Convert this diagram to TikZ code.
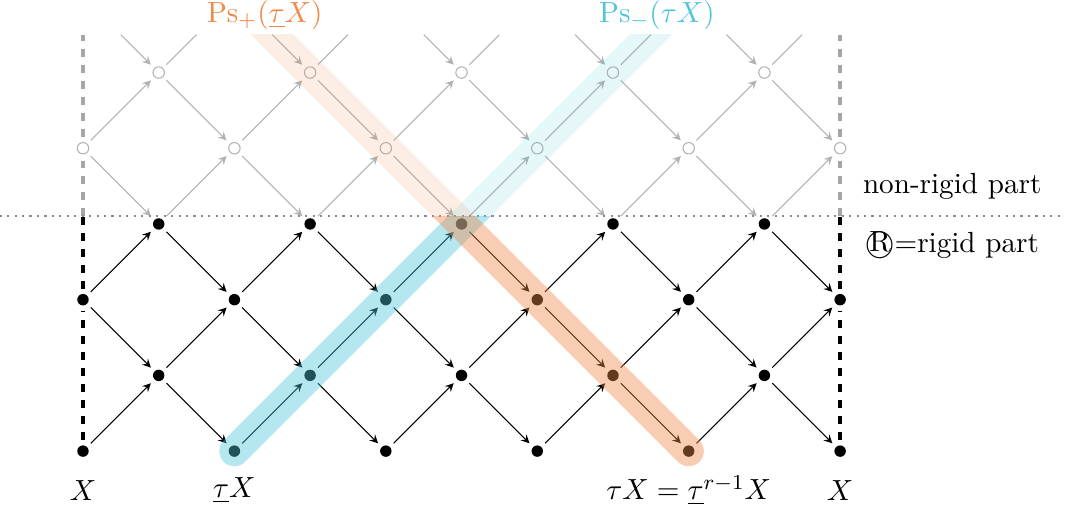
\documentclass[11pt,tikz,border=0pt]{standalone}
\usepackage{amsmath}
\definecolor{psplus}{RGB}{240,136,74}
\definecolor{psminus}{RGB}{78,197,221}
\tikzset{
  rig/.style={circle, fill=black, inner sep=0pt, minimum size=4.3pt, outer sep=2pt},
  nonrig/.style={circle, draw=black!30, fill=white, inner sep=0pt, minimum size=4.3pt, outer sep=2pt},
  rigarr/.style={->, black},
  nonrigarr/.style={->, black!30},
  wall/.style={dashed, ultra thick},
  band/.style={line width=0.4cm, line cap=round},
}
\begin{document}
\begin{tikzpicture}[>=stealth, line join=round]
\useasboundingbox (-1.096,-0.793) rectangle (12.97,5.958);

% Vertici parte rigida
\foreach \j in {0,2} \foreach \i in {0,2,...,10} \node[rig] (v-\i-\j) at (\i,\j) {};
\foreach \j in {1,3} \foreach \i in {1,3,...,9} \node[rig] (v-\i-\j) at (\i,\j) {};

% Vertici parte non rigida
\foreach \i in {0,2,...,10} \node[nonrig] (v-\i-4) at (\i,4) {};
\foreach \i in {1,3,...,9} \node[nonrig] (v-\i-5) at (\i,5) {};

% Frecce rigide
\foreach \j/\k in {0/1,2/3} \foreach \i in {0,2,...,8} {
  \pgfmathtruncatemacro\n{\i+1}
  \draw[rigarr] (v-\i-\j) -- (v-\n-\k);
}
\foreach \i in {1,3,...,9} {
  \pgfmathtruncatemacro\n{\i+1}
  \draw[rigarr] (v-\i-1) -- (v-\n-2);
  \draw[rigarr] (v-\i-1) -- (v-\n-0);
  \draw[rigarr] (v-\i-3) -- (v-\n-2);
}
\foreach \i in {0,2,...,8} {
  \pgfmathtruncatemacro\n{\i+1}
  \draw[rigarr] (v-\i-2) -- (v-\n-1);
}

% Frecce non rigide
\foreach \i in {1,3,...,9} {
  \pgfmathtruncatemacro\n{\i+1}
  \draw[nonrigarr] (v-\i-3) -- (v-\n-4);
  \draw[nonrigarr] (v-\i-5) -- (v-\n-4);
}
\foreach \i in {0,2,...,8} {
  \pgfmathtruncatemacro\n{\i+1}
  \draw[nonrigarr] (v-\i-4) -- (v-\n-5);
  \draw[nonrigarr] (v-\i-4) -- (v-\n-3);
}

% Frecce tagliate in alto
\foreach \i in {1,3,...,9} {
  \coordinate (in-\i) at (\i-0.5,5.5);
  \coordinate (out-\i) at (\i+0.5,5.5);
  \draw[nonrigarr] (in-\i) -- (v-\i-5);
  \draw[black!30] (v-\i-5) -- (out-\i);
}

% Bordi tratteggiati
\foreach \i in {0,10} {
  \coordinate (w-\i) at (\i,3.1);
  \coordinate (t-\i) at (\i,5.5);
  \draw[wall] (v-\i-0) -- (v-\i-2) -- (w-\i);
  \draw[wall, black!35] (w-\i) -- (v-\i-4) -- (t-\i);
}

% Linea di separazione
\draw[dotted, thick, black!45] (-1.1,3.1) -- (12.97,3.1);

% Bande colorate
\begin{scope}
  \clip (-1.1,-0.8) rectangle (12.97,3.1);
  \draw[band, psminus, opacity=0.42] (v-2-0.center) -- (8,6);
  \draw[band, psplus, opacity=0.42] (v-8-0.center) -- (2,6);
\end{scope}
\begin{scope}
  \clip (-1.1,3.1) rectangle (12.97,5.5);
  \draw[band, psminus, opacity=0.14] (v-2-0.center) -- (8,6);
  \draw[band, psplus, opacity=0.14] (v-8-0.center) -- (2,6);
\end{scope}

% Etichette
\node[text=psplus] (lplus) at (2.4,5.76) {$\mathrm{Ps}_+(\underline{\tau}X)$};
\node[text=psminus] (lminus) at (7.58,5.76) {$\mathrm{Ps}_-(\tau X)$};
\node (lx0) at (0,-0.52) {$X$};
\node (ltau) at (2,-0.52) {$\underline{\tau}X$};
\node (lrel) at (8,-0.52) {$\tau X = \underline{\tau}^{r-1}X$};
\node (lx10) at (10,-0.52) {$X$};
\node (lnon) at (11.48,3.49) {non-rigid part};
\node (lrig) at (11.48,2.72) {\textcircled{R}=rigid part};

\end{tikzpicture}
\end{document}
